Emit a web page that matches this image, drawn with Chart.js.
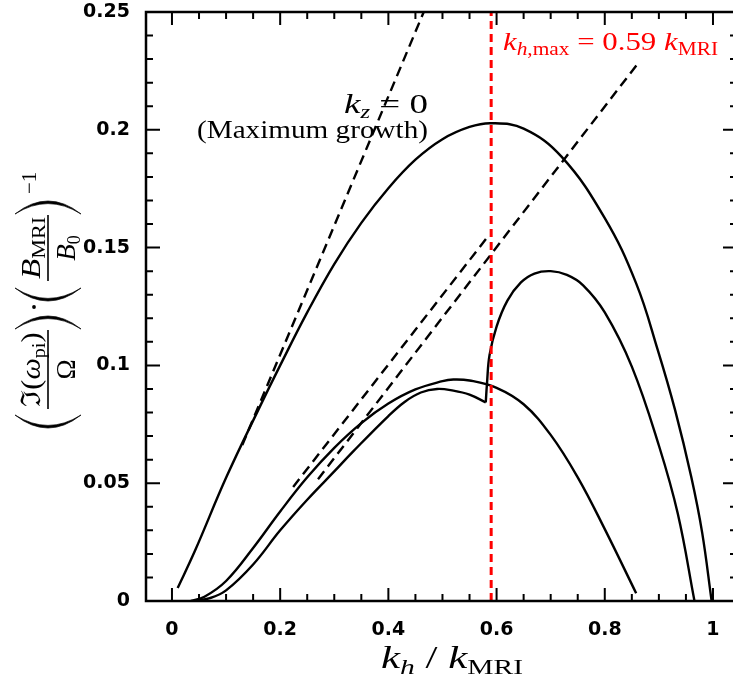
<!DOCTYPE html>
<html>
<head>
<meta charset="utf-8">
<script src="https://cdn.jsdelivr.net/npm/chart.js@4.4.0/dist/chart.umd.min.js"></script>
<style>
  html, body { margin: 0; padding: 0; background: #fff; }
</style>
</head>
<body>
<canvas id="chart" width="733" height="682"></canvas>
<script>
// tick labels
const xTicks = [0, 0.2, 0.4, 0.6, 0.8, 1];
const yTicks = [0, 0.05, 0.1, 0.15, 0.2, 0.25];
const xMinorStep = 0.05;
const yMinorStep = 0.01;

// k_z = 0 (maximum growth)
const kzZeroX = [0.0105, 0.0425, 0.101, 0.1625, 0.2, 0.25, 0.3, 0.35, 0.4, 0.45, 0.5, 0.55, 0.59, 0.65, 0.72, 0.8, 0.858, 0.898, 0.93, 0.96, 0.98, 0.9975];
const kzZeroY = [0.0055, 0.0213, 0.0528, 0.0825, 0.100, 0.1225, 0.143, 0.1605, 0.1752, 0.1873, 0.196, 0.2012, 0.2028, 0.2005, 0.1886, 0.1625, 0.1348, 0.1065, 0.081, 0.0525, 0.029, 0.0];

// lower curve ending near 0.86
const curveBX = [0.035, 0.06, 0.1, 0.15, 0.2, 0.25, 0.3, 0.35, 0.4, 0.45, 0.5, 0.52, 0.55, 0.6, 0.65, 0.7, 0.75, 0.8, 0.858];
const curveBY = [0.0, 0.0018, 0.0085, 0.0225, 0.038, 0.0525, 0.065, 0.0755, 0.0838, 0.0898, 0.0933, 0.094, 0.0936, 0.0905, 0.0835, 0.0705, 0.0525, 0.0305, 0.0033];

// curve with the cusp: before and after the jump
const curveALowX = [0.04, 0.07, 0.1, 0.15, 0.2, 0.25, 0.3, 0.335, 0.4, 0.43, 0.46, 0.49, 0.52, 0.55, 0.58];
const curveALowY = [0.0, 0.0012, 0.0045, 0.0155, 0.030, 0.043, 0.055, 0.0635, 0.0785, 0.0845, 0.0885, 0.090, 0.0893, 0.0876, 0.0843];
const curveAHighX = [0.58, 0.5823, 0.587, 0.6, 0.62, 0.645, 0.67, 0.70, 0.73, 0.76, 0.8, 0.85, 0.9, 0.935, 0.9658];
const curveAHighY = [0.0843, 0.0924, 0.1044, 0.1165, 0.1275, 0.1352, 0.139, 0.140, 0.1384, 0.134, 0.1225, 0.0995, 0.066, 0.037, 0.0];

// dashed asymptotes
const dashSteepX = [0.13, 0.465];
const dashSteepY = [0.0662, 0.2498];
const dashMidX = [0.224, 0.585];
const dashMidY = [0.0484, 0.155];
const dashLongX = [0.27, 0.859];
const dashLongY = [0.0517, 0.2275];

const kMax = 0.59;

const zip = (xs, ys) => xs.map((x, i) => ({ x: x, y: ys[i] }));

const SERIF = "'Liberation Serif', 'DejaVu Serif', serif";

function solid(xs, ys) {
    return { data: zip(xs, ys), borderColor: '#000', borderWidth: 2.4, showLine: true,
             pointRadius: 0, tension: 0.4 };
}
function dashed(xs, ys) {
    return { data: zip(xs, ys), borderColor: '#000', borderWidth: 2.4, showLine: true,
             pointRadius: 0, borderDash: [10, 6] };
}

// draws pieces of text [text, font, dy] one after another
function drawRun(ctx, pieces, x, y, align, targetW) {
    let w = 0;
    pieces.forEach(p => { ctx.font = p[1]; w += ctx.measureText(p[0]).width; });
    const sx = targetW ? targetW / w : 1;
    const total = w * sx;
    let start = align === 'right' ? x - total : align === 'center' ? x - total / 2 : x;
    ctx.save();
    ctx.translate(start, y);
    ctx.scale(sx, 1);
    let cx = 0;
    pieces.forEach(p => {
        ctx.font = p[1];
        ctx.fillText(p[0], cx, p[2] || 0);
        cx += ctx.measureText(p[0]).width;
    });
    ctx.restore();
    return total;
}

function paren(ctx, x, w, h, open) {
    const e = open ? x + w : x, b = open ? x : x + w;
    const s = open ? 1 : -1;
    ctx.beginPath();
    ctx.moveTo(e, -h);
    ctx.quadraticCurveTo(2 * b - e, 0, e, h);
    ctx.quadraticCurveTo(2 * (b + s * 2.6) - e, 0, e, -h);
    ctx.fill();
    ctx.lineWidth = 0.7;
    ctx.stroke();
}

function frac(ctx, x0, w, num, den, numW) {
    ctx.lineWidth = 1.6;
    ctx.beginPath();
    ctx.moveTo(x0, 0); ctx.lineTo(x0 + w, 0);
    ctx.stroke();
    drawRun(ctx, num, x0 + w / 2, -8, 'center', numW);
    drawRun(ctx, den, x0 + w / 2, 27, 'center');
}

function drawYTitle(ctx) {
    const F = '27px ' + SERIF, FI = 'italic ' + F;
    const S = '18px ' + SERIF;
    ctx.save();
    ctx.translate(48, 428);
    ctx.rotate(-Math.PI / 2);
    ctx.fillStyle = '#000';
    ctx.strokeStyle = '#000';
    ctx.textBaseline = 'alphabetic';
    paren(ctx, 0, 13, 33, true);
    frac(ctx, 19, 79, [['\u2111(', F], ['\u03c9', FI], ['pi', S, 5], [')', F]], [['\u03a9', F]], 74);
    paren(ctx, 99, 13, 33, false);
    ctx.beginPath(); ctx.arc(121, -14, 1.9, 0, Math.PI * 2); ctx.fill();
    paren(ctx, 127, 13, 33, true);
    frac(ctx, 147, 66, [['B', FI], ['MRI', S, 5]], [['B', FI], ['0', S, 5]], 62);
    paren(ctx, 214, 13, 33, false);
    drawRun(ctx, [['\u22121', '21px ' + SERIF]], 234, -12, 'left');
    ctx.restore();
}

const frameAndText = {
    id: 'frameAndText',
    afterDraw(chart) {
        const { ctx, chartArea: a, scales: { x, y } } = chart;
        ctx.save();
        ctx.strokeStyle = '#000';
        ctx.lineWidth = 2.5;
        ctx.beginPath();
        ctx.moveTo(a.right, a.top); ctx.lineTo(a.left, a.top);
        ctx.lineTo(a.left, a.bottom); ctx.lineTo(a.right, a.bottom);
        ctx.stroke();

        // inward ticks on all four sides
        const rightEdge = a.right + 4;
        ctx.lineWidth = 2;
        ctx.beginPath();
        for (let i = 0; i * xMinorStep <= 1.0001; i++) {
            const v = i * xMinorStep;
            const len = xTicks.some(t => Math.abs(t - v) < 1e-6) ? 13 : 7;
            const px = x.getPixelForValue(v);
            ctx.moveTo(px, a.bottom); ctx.lineTo(px, a.bottom - len);
            ctx.moveTo(px, a.top); ctx.lineTo(px, a.top + len);
        }
        for (let i = 0; i * yMinorStep <= 0.2501; i++) {
            const v = i * yMinorStep;
            const len = yTicks.some(t => Math.abs(t - v) < 1e-6) ? 14 : 7;
            const py = y.getPixelForValue(v);
            ctx.moveTo(a.left, py); ctx.lineTo(a.left + len, py);
            ctx.moveTo(rightEdge, py); ctx.lineTo(rightEdge - len, py);
        }
        ctx.stroke();

        // axis titles
        ctx.fillStyle = '#000';
        ctx.textBaseline = 'alphabetic';
        drawRun(ctx, [['k', 'italic 32px ' + SERIF], ['h', 'italic 22px ' + SERIF, 6],
                      [' / ', '32px ' + SERIF], ['k', 'italic 32px ' + SERIF], ['MRI', '22px ' + SERIF, 6]],
                452, 668, 'center', 142);
        drawYTitle(ctx);

        // annotations
        drawRun(ctx, [['k', 'italic 27px ' + SERIF], ['z', 'italic 18px ' + SERIF, 5], [' = 0', '27px ' + SERIF]],
                428, 113, 'right', 84);
        drawRun(ctx, [['(Maximum growth)', '25px ' + SERIF]], 428, 138, 'right', 231);
        ctx.fillStyle = '#ff0000';
        drawRun(ctx, [['k', 'italic 26px ' + SERIF], ['h', 'italic 18px ' + SERIF, 5], [',max', '18px ' + SERIF, 5],
                      [' = 0.59 ', '26px ' + SERIF], ['k', 'italic 26px ' + SERIF], ['MRI', '18px ' + SERIF, 5]],
                503, 50, 'left', 215);
        ctx.restore();
    }
};

const tickFont = { family: "'DejaVu Sans', sans-serif", size: 19, weight: 'bold' };
const fmt = v => (v === 0 ? '0' : String(+v.toFixed(2)));

new Chart(document.getElementById('chart'), {
    type: 'scatter',
    data: {
        datasets: [
            { data: [{ x: kMax, y: 0 }, { x: kMax, y: 0.25 }], borderColor: '#ff0000', borderWidth: 3,
              borderDash: [8, 5], showLine: true, pointRadius: 0 },
            solid(kzZeroX, kzZeroY),
            solid(curveBX, curveBY),
            solid(curveALowX, curveALowY),
            solid(curveAHighX, curveAHighY),
            dashed(dashSteepX, dashSteepY),
            dashed(dashMidX, dashMidY),
            dashed(dashLongX, dashLongY)
        ]
    },
    options: {
        responsive: false,
        animation: false,
        layout: { padding: { left: 0, right: 0, top: 12, bottom: 0 } },
        plugins: { legend: { display: false }, tooltip: { enabled: false } },
        scales: {
            x: {
                type: 'linear', min: -0.048, max: 1.037,
                afterBuildTicks: s => { s.ticks = xTicks.map(v => ({ value: v })); },
                afterFit: s => { s.height = 81; s.paddingLeft = 0; s.paddingRight = 0; },
                grid: { display: false, drawTicks: false },
                border: { display: false },
                ticks: { padding: 18, color: '#000', font: tickFont, callback: fmt }
            },
            y: {
                type: 'linear', min: 0, max: 0.25,
                afterBuildTicks: s => { s.ticks = yTicks.map(v => ({ value: v })); },
                afterFit: s => { s.width = 146; s.paddingTop = 0; s.paddingBottom = 0; },
                grid: { display: false, drawTicks: false },
                border: { display: false },
                ticks: { padding: 16, color: '#000', font: tickFont, callback: fmt }
            }
        }
    },
    plugins: [frameAndText]
});
</script>
</body>
</html>
